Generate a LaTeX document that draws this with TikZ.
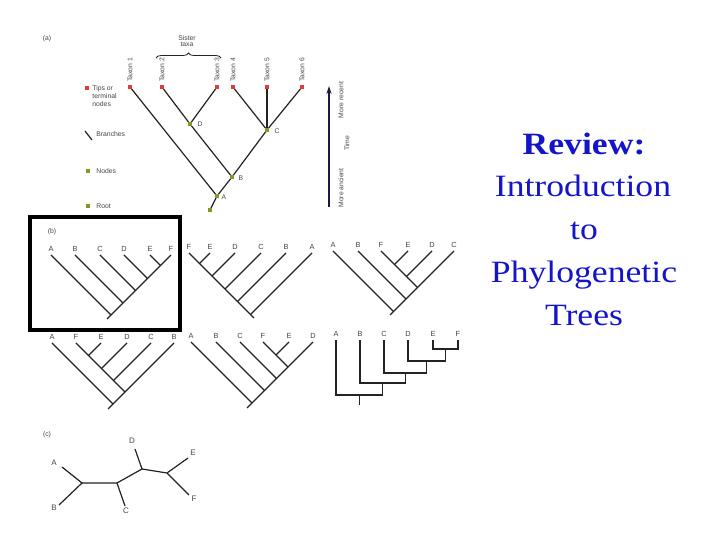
\documentclass[tikz,border=0pt]{standalone}
\usepackage{fontspec}
\setmainfont{Liberation Serif}
\newfontfamily\labfont{Liberation Sans}
\usetikzlibrary{arrows.meta,decorations.pathreplacing}
\definecolor{ttl}{RGB}{20,20,200}
\definecolor{tipred}{RGB}{225,60,60}
\definecolor{nodegr}{RGB}{135,150,40}
\definecolor{br}{RGB}{35,35,35}
\definecolor{lbl}{RGB}{70,70,70}
\definecolor{arr}{RGB}{25,25,70}
\begin{document}
\begin{tikzpicture}[x=0.5pt,y=-0.5pt,
  branch/.style={draw=br,line width=0.6pt},
  tiplab/.style={font=\labfont\fontsize{3.7}{4.5}\selectfont,text=lbl,inner sep=0pt},
  smlab/.style={font=\labfont\fontsize{3.4}{4}\selectfont,text=lbl,inner sep=0pt},
  unlab/.style={font=\labfont\fontsize{4}{5}\selectfont,text=lbl,inner sep=0pt},
  tipsq/.style={rectangle,fill=tipred,inner sep=0pt,minimum size=2pt},
  nodesq/.style={rectangle,fill=nodegr,inner sep=0pt,minimum size=2pt},
  titletext/.style={font=\fontsize{15.5}{18}\selectfont,text=ttl,inner sep=0pt,xscale=1.15}
]
\useasboundingbox (0,0) rectangle (720,540);
\fill[white] (0,0) rectangle (720,540);

% ---------------- (a) ----------------
\node[smlab] (alab) at (47,39) {(a)};
\node[smlab,align=center] (sister) at (187,41) {Sister\\[-0.6pt]taxa};
\coordinate (brL) at (156,58);
\coordinate (brR) at (221,58);
\draw[branch,line width=0.4pt,decorate,decoration={brace,amplitude=2.5pt}] (brL) -- (brR);

\foreach \i/\x in {1/130,2/162,3/217,4/233,5/267,6/302}{
  \node[tipsq] (at\i) at (\x,87) {};
  \node[smlab,rotate=90,anchor=west] (tl\i) at (\x,82) {Taxon \i};
}
\node[nodesq] (aD) at (190,124) {};
\node[nodesq] (aC) at (267,130) {};
\node[nodesq] (aB) at (232,177) {};
\node[nodesq] (aA) at (217,196) {};
\node[nodesq] (aR) at (210,210) {};
\node[smlab] (lD) at (200,124) {D};
\node[smlab] (lC) at (277,131) {C};
\node[smlab] (lB) at (241,178) {B};
\node[smlab] (lA) at (224,197) {A};

\draw[branch] (at1.center) -- (aA.center);
\draw[branch] (at2.center) -- (aD.center) -- (aB.center);
\draw[branch] (at3.center) -- (aD.center);
\draw[branch] (at4.center) -- (aC.center);
\draw[branch] (at5.center) -- (aC.center);
\draw[branch] (at6.center) -- (aC.center);
\draw[branch] (aC.center) -- (aB.center) -- (aA.center) -- (aR.center);
\foreach \n in {at1,at2,at3,at4,at5,at6}{\node[tipsq] at (\n) {};}
\foreach \n in {aD,aC,aB,aA,aR}{\node[nodesq] at (\n) {};}

% legend
\node[tipsq] (lgTip) at (87,88) {};
\node[smlab,align=left,anchor=north west] (lgTipT) at (92,85) {Tips or\\terminal\\nodes};
\coordinate (lgB1) at (85,131);
\coordinate (lgB2) at (92,140);
\draw[branch] (lgB1) -- (lgB2);
\node[smlab,anchor=west] (lgBT) at (96,134) {Branches};
\node[nodesq] (lgNode) at (88,171) {};
\node[smlab,anchor=west] (lgNT) at (96,171) {Nodes};
\node[nodesq] (lgRoot) at (88,206) {};
\node[smlab,anchor=west] (lgRT) at (96,206) {Root};

% time arrow
\coordinate (tB) at (329,207);
\coordinate (tT) at (329,86);
\draw[draw=arr,line width=0.6pt,-{Stealth[length=4pt,width=2.6pt]}] (tB) -- (tT);
\node[smlab,rotate=90] (mr) at (341,100) {More recent};
\node[smlab,rotate=90] (tm) at (347,143) {Time};
\node[smlab,rotate=90] (ma) at (341,188) {More ancient};

% ---------------- (b) ----------------
\draw[black,line width=2pt] (30,217) rectangle (180,330);
\node[smlab] (blab) at (52,232) {(b)};

% b1
\foreach \n/\x in {A/51,B/75,C/100,D/124,E/150,F/171}{
  \coordinate (p\n) at (\x,255);
  \node[tiplab,anchor=south] at (\x,251.5) {\n};
}
\coordinate (p1) at (160.5,265.5);
\coordinate (p2) at (147.5,278.5);
\coordinate (p3) at (135.5,290.5);
\coordinate (p4) at (123,303);
\coordinate (pr) at (111,315);
\coordinate (ps) at (107,319);
\draw[branch] (pF) -- (p1) -- (p2) -- (p3) -- (p4) -- (pr) -- (ps);
\draw[branch] (pE) -- (p1);
\draw[branch] (pD) -- (p2);
\draw[branch] (pC) -- (p3);
\draw[branch] (pB) -- (p4);
\draw[branch] (pA) -- (pr);

% b2
\foreach \n/\x in {F/189,E/210,D/235,C/261,B/286,A/312}{
  \coordinate (q\n) at (\x,253);
  \node[tiplab,anchor=south] at (\x,249.5) {\n};
}
\coordinate (q1) at (199.5,263.5);
\coordinate (q2) at (212,276);
\coordinate (q3) at (225,289);
\coordinate (q4) at (237.5,301.5);
\coordinate (qr) at (250.5,314.5);
\coordinate (qs) at (254,318);
\draw[branch] (qF) -- (q1) -- (q2) -- (q3) -- (q4) -- (qr) -- (qs);
\draw[branch] (qE) -- (q1);
\draw[branch] (qD) -- (q2);
\draw[branch] (qC) -- (q3);
\draw[branch] (qB) -- (q4);
\draw[branch] (qA) -- (qr);

% b3
\foreach \n/\x in {A/333,B/358,F/381,E/408,D/432,C/454}{
  \coordinate (r\n) at (\x,251);
  \node[tiplab,anchor=south] at (\x,247.5) {\n};
}
\coordinate (r1) at (394.5,264.5);
\coordinate (r2) at (406.5,276.5);
\coordinate (r3) at (417.5,287.5);
\coordinate (r4) at (406,299);
\coordinate (rr) at (393.5,311.5);
\coordinate (rs) at (390,315);
\draw[branch] (rF) -- (r1) -- (r2) -- (r3);
\draw[branch] (rE) -- (r1);
\draw[branch] (rD) -- (r2);
\draw[branch] (rC) -- (r3) -- (r4) -- (rr) -- (rs);
\draw[branch] (rB) -- (r4);
\draw[branch] (rA) -- (rr);

% b4
\foreach \n/\x in {A/52,F/76,E/101,D/127,C/151,B/174}{
  \coordinate (s\n) at (\x,343);
  \node[tiplab,anchor=south] at (\x,339.5) {\n};
}
\coordinate (s1) at (88.5,355.5);
\coordinate (s2) at (101.5,368.5);
\coordinate (s3) at (113.5,380.5);
\coordinate (s4) at (125,392);
\coordinate (sr) at (113,404);
\coordinate (ss) at (108,409);
\draw[branch] (sF) -- (s1) -- (s2) -- (s3) -- (s4);
\draw[branch] (sE) -- (s1);
\draw[branch] (sD) -- (s2);
\draw[branch] (sC) -- (s3);
\draw[branch] (sB) -- (s4) -- (sr) -- (ss);
\draw[branch] (sA) -- (sr);

% b5
\foreach \n/\x in {A/191,B/216,C/240,F/263,E/289,D/313}{
  \coordinate (u\n) at (\x,342);
  \node[tiplab,anchor=south] at (\x,338.5) {\n};
}
\coordinate (u1) at (276,355);
\coordinate (u2) at (288,367);
\coordinate (u3) at (276.5,378.5);
\coordinate (u4) at (264.5,390.5);
\coordinate (ur) at (252,403);
\coordinate (us) at (247,408);
\draw[branch] (uF) -- (u1) -- (u2);
\draw[branch] (uE) -- (u1);
\draw[branch] (uD) -- (u2) -- (u3) -- (u4) -- (ur) -- (us);
\draw[branch] (uC) -- (u3);
\draw[branch] (uB) -- (u4);
\draw[branch] (uA) -- (ur);

% b6 (rectangular)
\foreach \n/\x in {A/336,B/360,C/384,D/408,E/433,F/458}{
  \coordinate (v\n) at (\x,340);
  \node[tiplab,anchor=south] at (\x,336.5) {\n};
}
\coordinate (v1) at (445.5,349);
\coordinate (v2) at (426.75,361);
\coordinate (v3) at (405.4,373);
\coordinate (v4) at (382.7,383);
\coordinate (v5) at (359.35,395);
\coordinate (vr) at (359.35,405);
\draw[branch] (vE) |- (v1) -| (vF);
\draw[branch] (vD) |- (v2) -| (v1);
\draw[branch] (vC) |- (v3) -| (v2);
\draw[branch] (vB) |- (v4) -| (v3);
\draw[branch] (vA) |- (v5) -| (v4);
\draw[branch] (v5) -- (vr);

% ---------------- (c) ----------------
\node[smlab] (clab) at (47,435) {(c)};
\coordinate (cA) at (62,467);
\coordinate (cB) at (59,505);
\coordinate (cC) at (125,506);
\coordinate (cD) at (135,449);
\coordinate (cE) at (188,458);
\coordinate (cF) at (189,495);
\coordinate (c1) at (82,483);
\coordinate (c2) at (117,483);
\coordinate (c3) at (142,469);
\coordinate (c4) at (167,473);
\node[unlab] (cAl) at (54,463) {A};
\node[unlab] (cBl) at (54,508) {B};
\node[unlab] (cCl) at (126,511) {C};
\node[unlab] (cDl) at (132,441) {D};
\node[unlab] (cEl) at (193,453) {E};
\node[unlab] (cFl) at (194,499) {F};
\draw[branch] (cA) -- (c1) -- (cB);
\draw[branch] (c1) -- (c2) -- (cC);
\draw[branch] (c2) -- (c3) -- (cD);
\draw[branch] (c3) -- (c4) -- (cE);
\draw[branch] (c4) -- (cF);

% ---------------- title ----------------
\node[titletext,anchor=base,font=\bfseries\fontsize{15.5}{18}\selectfont] (t1) at (584,155) {Review:};
\node[titletext,anchor=base] (t2) at (583,197) {Introduction};
\node[titletext,anchor=base] (t3) at (584,240) {to};
\node[titletext,anchor=base] (t4) at (584,283) {Phylogenetic};
\node[titletext,anchor=base] (t5) at (584,326) {Trees};
\end{tikzpicture}
\end{document}
